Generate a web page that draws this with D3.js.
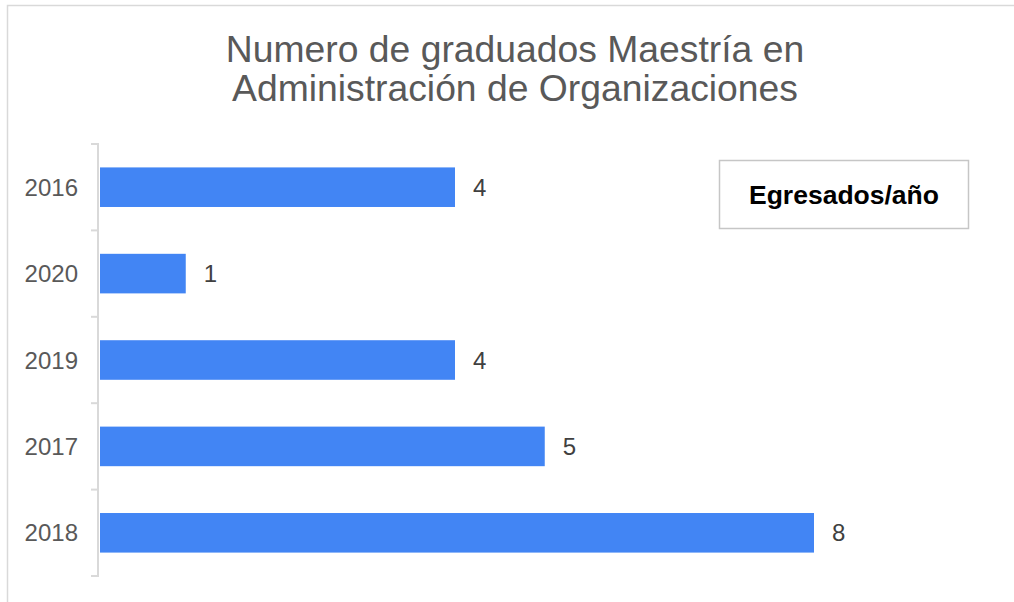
<!DOCTYPE html>
<html>
<head>
<meta charset="utf-8">
<script src="https://cdn.jsdelivr.net/npm/d3@7"></script>
<style>
  body { margin: 0; background: #fff; }
  text { font-family: "Liberation Sans", Arial, sans-serif; }
</style>
</head>
<body>
<div id="chart"></div>
<script>
var width = 1014, height = 602;

// data, top to bottom
var years = ["2016", "2020", "2019", "2017", "2018"];
var graduates = [4, 1, 4, 5, 8];
var titleLines = ["Numero de graduados Maestría en", "Administración de Organizaciones"];
var legendLabel = "Egresados/año";

var svg = d3.select("#chart").append("svg")
  .attr("width", width)
  .attr("height", height);

// outer chart border (runs off the right and bottom edges)
svg.append("rect")
  .attr("x", 7.5).attr("y", 5.5)
  .attr("width", 1200).attr("height", 800)
  .attr("fill", "none")
  .attr("stroke", "#d9d9d9")
  .attr("stroke-width", 1.5);

// title
svg.append("text")
  .attr("text-anchor", "middle")
  .attr("fill", "#595959")
  .style("font-size", "37.3px")
  .selectAll("tspan")
  .data(titleLines)
  .join("tspan")
    .attr("x", 515)
    .attr("y", function (d, i) { return 62 + i * 39; })
    .text(function (d) { return d; });

var x = d3.scaleLinear()
  .domain([0, 8])
  .range([96, 814]);

var y = d3.scaleBand()
  .domain(years)
  .range([144, 576])
  .paddingInner(0.542)
  .paddingOuter(0.271);

// bars
svg.selectAll("rect.bar")
  .data(years)
  .join("rect")
    .attr("class", "bar")
    .attr("x", 100)
    .attr("y", function (d) { return y(d); })
    .attr("width", function (d, i) { return x(graduates[i]) - 100; })
    .attr("height", y.bandwidth())
    .attr("fill", "#4285f4");

// value labels
svg.selectAll("text.val")
  .data(years)
  .join("text")
    .attr("class", "val")
    .attr("x", function (d, i) { return x(graduates[i]) + 18; })
    .attr("y", function (d) { return y(d) + y.bandwidth() / 2; })
    .attr("dy", "0.36em")
    .attr("fill", "#404040")
    .style("font-size", "24px")
    .text(function (d, i) { return graduates[i]; });

// y axis: line with ticks at band edges
var axisG = svg.append("g");
var edges = d3.range(years.length + 1).map(function (i) { return 144 + i * y.step(); });
axisG.append("line")
  .attr("x1", 98).attr("x2", 98)
  .attr("y1", edges[0]).attr("y2", edges[edges.length - 1])
  .attr("stroke", "#d9d9d9").attr("stroke-width", 2);
axisG.selectAll("line.tick")
  .data(edges)
  .join("line")
    .attr("class", "tick")
    .attr("x1", 91).attr("x2", 99)
    .attr("y1", function (d) { return d; })
    .attr("y2", function (d) { return d; })
    .attr("stroke", "#d9d9d9").attr("stroke-width", 2);
axisG.selectAll("text")
  .data(years)
  .join("text")
    .attr("x", 78)
    .attr("y", function (d) { return y(d) + y.bandwidth() / 2; })
    .attr("dy", "0.36em")
    .attr("text-anchor", "end")
    .attr("fill", "#595959")
    .style("font-size", "24px")
    .text(function (d) { return d; });

// legend box
var legend = svg.append("g");
legend.append("rect")
  .attr("x", 719.5).attr("y", 160.5)
  .attr("width", 249).attr("height", 68)
  .attr("fill", "#fff")
  .attr("stroke", "#c6c6c6")
  .attr("stroke-width", 1.5);
legend.append("text")
  .attr("x", 844).attr("y", 204)
  .attr("text-anchor", "middle")
  .attr("fill", "#000")
  .style("font-size", "26.5px")
  .style("font-weight", "bold")
  .text(legendLabel);
</script>
</body>
</html>
